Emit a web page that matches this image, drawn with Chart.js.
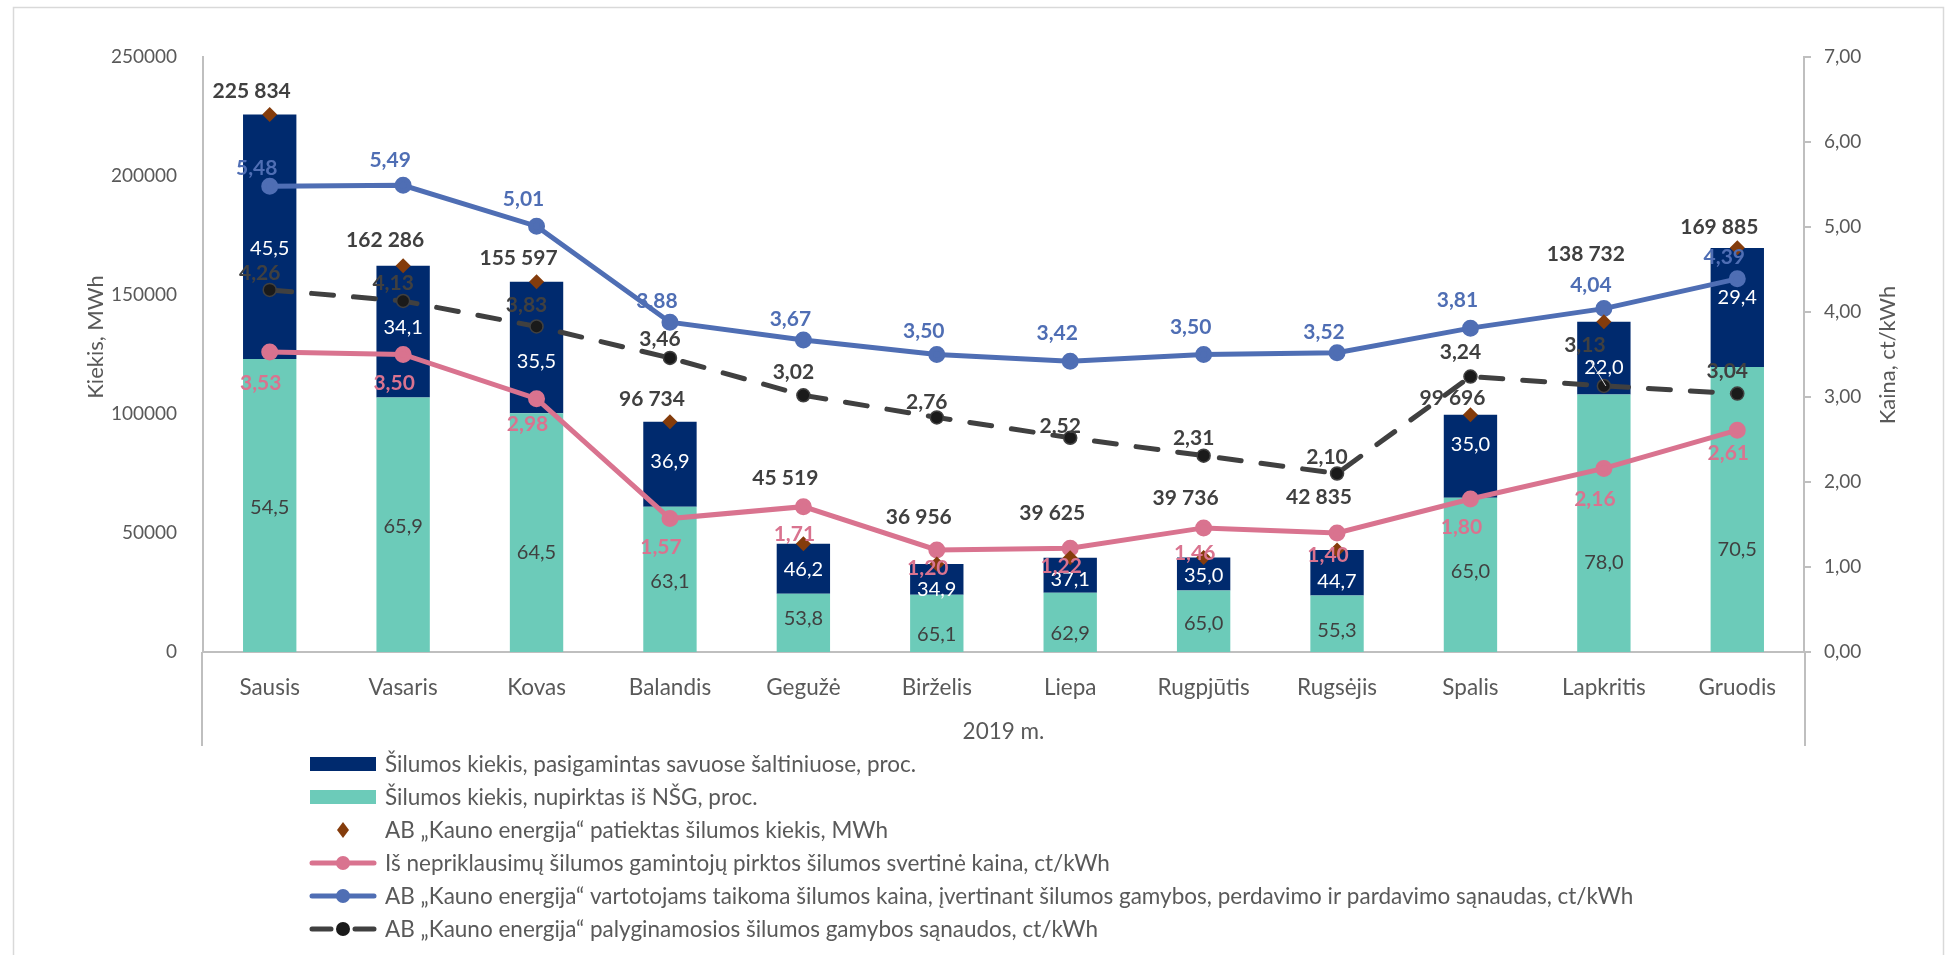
<!DOCTYPE html>
<html>
<head>
<meta charset="utf-8">
<script src="https://cdn.jsdelivr.net/npm/chart.js@4/dist/chart.umd.min.js"></script>
<style>
  html, body { margin: 0; padding: 0; background: #fff; }
  #chart { display: block; }
</style>
</head>
<body>
<canvas id="chart" width="1948" height="955"></canvas>
<script>
// data
var months = ['Sausis', 'Vasaris', 'Kovas', 'Balandis', 'Gegužė', 'Birželis', 'Liepa', 'Rugpjūtis', 'Rugsėjis', 'Spalis', 'Lapkritis', 'Gruodis'];
var delivered = [225834, 162286, 155597, 96734, 45519, 36956, 39625, 39736, 42835, 99696, 138732, 169885]; // MWh
var ownShare = [45.5, 34.1, 35.5, 36.9, 46.2, 34.9, 37.1, 35.0, 44.7, 35.0, 22.0, 29.4];        // proc.
var boughtShare = [54.5, 65.9, 64.5, 63.1, 53.8, 65.1, 62.9, 65.0, 55.3, 65.0, 78.0, 70.5];     // proc.
var ipPrice = [3.53, 3.50, 2.98, 1.57, 1.71, 1.20, 1.22, 1.46, 1.40, 1.80, 2.16, 2.61];
var userPrice = [5.48, 5.49, 5.01, 3.88, 3.67, 3.50, 3.42, 3.50, 3.52, 3.81, 4.04, 4.39];
var prodCost = [4.26, 4.13, 3.83, 3.46, 3.02, 2.76, 2.52, 2.31, 2.10, 3.24, 3.13, 3.04];
var leftTicks = [0, 50000, 100000, 150000, 200000, 250000];
var rightTicks = [0, 1, 2, 3, 4, 5, 6, 7];

// label nudges, px (Excel labels were placed by hand)
var totalLift = [23, 26, 23, 23, 65, 47, 44, 59, 53, 16, 68, 20];
var blueLift = [18, 25, 27, 21, 21, 23, 28, 27, 21, 28, 23, 22];
var pinkDrop = [31, 29, 26, 29, 28, 18, 18, 25, 22, 28, 31, 23];
var greyLift = [17, 18, 21, 19, 23, 15, 12, 17, 16, 24, 41, 22];
var navyShift = [12, -4, 14, -3, 1, 10, 4, 2, 9, -12, 9, -10];
var tealShift = [2, 2, 20, 2, -4, 11, 11, 2, 7, -3, 39, 40];

var NAVY = '#002A6E', TEAL = '#6CCBB9', BROWN = '#843C0C';
var PINK = '#D9738F', BLUE = '#4F6EB4', GREY = '#404040', TXT = '#595959', AXIS = '#BFBFBF';

Chart.defaults.font.family = 'Lato, "Open Sans", sans-serif';
Chart.defaults.color = TXT;

function pct(v) { return v.toFixed(1).replace('.', ','); }
function price(v) { return v.toFixed(2).replace('.', ','); }
function thousands(v) { return String(v).replace(/\B(?=(\d{3})+(?!\d))/g, ' '); }

var tealData = delivered.map(function (t, i) { return t * boughtShare[i] / 100; });
var navyData = delivered.map(function (t, i) { return t * ownShare[i] / 100; });

function text(ctx, s, x, y, color, font) {
  ctx.fillStyle = color;
  ctx.font = font;
  ctx.textAlign = 'center';
  ctx.textBaseline = 'middle';
  ctx.fillText(s, x, y);
}

function vtitle(ctx, s, x, y) {
  ctx.save();
  ctx.translate(x, y);
  ctx.rotate(-Math.PI / 2);
  text(ctx, s, 0, 0, TXT, '22px Lato');
  ctx.restore();
}

var labelPlugin = {
  id: 'labelPlugin',
  beforeDraw: function (chart) {
    var ctx = chart.ctx;
    ctx.save();
    ctx.strokeStyle = '#D9D9D9';
    ctx.lineWidth = 1.5;
    ctx.strokeRect(13.5, 7.5, 1930, 970);
    ctx.restore();
  },
  afterDatasetsDraw: function (chart) {
    var ctx = chart.ctx;
    var bold = 'bold 21px Lato';
    var reg = '20px Lato';
    ctx.save();
    // axis lines run down past the category labels
    var a = chart.chartArea, xs = chart.scales.x;
    ctx.strokeStyle = AXIS;
    ctx.lineWidth = 2;
    ctx.beginPath();
    ctx.moveTo(chart.scales.y.right - 1, a.bottom);
    ctx.lineTo(chart.scales.y.right - 1, xs.bottom);
    ctx.moveTo(chart.scales.y1.left + 1, a.bottom);
    ctx.lineTo(chart.scales.y1.left + 1, xs.bottom);
    ctx.stroke();

    chart.getDatasetMeta(0).data.forEach(function (el, i) {
      text(ctx, pct(boughtShare[i]), el.x, (el.y + el.base) / 2 + tealShift[i], GREY, reg);
    });
    chart.getDatasetMeta(1).data.forEach(function (el, i) {
      text(ctx, pct(ownShare[i]), el.x, (el.y + el.base) / 2 + navyShift[i], '#FFFFFF', reg);
    });
    chart.getDatasetMeta(2).data.forEach(function (el, i) {
      text(ctx, thousands(delivered[i]), el.x - 18, el.y - totalLift[i], GREY, bold);
    });
    chart.getDatasetMeta(3).data.forEach(function (el, i) {
      text(ctx, price(ipPrice[i]), el.x - 9, el.y + pinkDrop[i], PINK, bold);
    });
    chart.getDatasetMeta(4).data.forEach(function (el, i) {
      text(ctx, price(userPrice[i]), el.x - 13, el.y - blueLift[i], BLUE, bold);
    });
    chart.getDatasetMeta(5).data.forEach(function (el, i) {
      var dx = i === 10 ? -19 : -10;
      if (i === 10) {
        ctx.strokeStyle = '#D9D9D9';
        ctx.lineWidth = 1;
        ctx.beginPath();
        ctx.moveTo(el.x - 14, el.y - 26);
        ctx.lineTo(el.x + 2, el.y);
        ctx.stroke();
      }
      text(ctx, price(prodCost[i]), el.x + dx, el.y - greyLift[i], GREY, bold);
    });
    ctx.restore();
  },
  afterDraw: function (chart) {
    var ctx = chart.ctx;
    var ds = chart.data.datasets;
    var order = [1, 0, 2, 3, 4, 5];
    var x0 = 310, x1 = 376, xm = 343, tx = 385, y0 = 764, step = 33;
    ctx.save();
    order.forEach(function (d, row) {
      var y = y0 + row * step;
      var s = ds[d];
      if (d <= 1) {
        ctx.fillStyle = s.backgroundColor;
        ctx.fillRect(x0, y - 7, x1 - x0, 14);
      } else if (d === 2) {
        ctx.fillStyle = BROWN;
        ctx.beginPath();
        ctx.moveTo(xm, y - 8); ctx.lineTo(xm + 6, y); ctx.lineTo(xm, y + 8); ctx.lineTo(xm - 6, y);
        ctx.closePath();
        ctx.fill();
      } else {
        ctx.strokeStyle = s.borderColor;
        ctx.lineWidth = 5;
        ctx.lineCap = 'round';
        ctx.beginPath();
        if (d === 5) {
          ctx.moveTo(x0 + 2, y); ctx.lineTo(xm - 12, y);
          ctx.moveTo(xm + 12, y); ctx.lineTo(x1 - 2, y);
        } else {
          ctx.moveTo(x0 + 2, y); ctx.lineTo(x1 - 2, y);
        }
        ctx.stroke();
        ctx.fillStyle = s.pointBackgroundColor;
        ctx.beginPath();
        ctx.arc(xm, y, 7, 0, Math.PI * 2);
        ctx.fill();
      }
      ctx.fillStyle = TXT;
      ctx.font = '22.5px Lato';
      ctx.textAlign = 'left';
      ctx.textBaseline = 'middle';
      ctx.fillText(s.label, tx, y + 1);
    });
    // axis titles, both read bottom-to-top
    vtitle(ctx, 'Kiekis, MWh', 96, 337);
    vtitle(ctx, 'Kaina, ct/kWh', 1888, 355);
    ctx.restore();
  }
};

var chart = new Chart(document.getElementById('chart'), {
  type: 'bar',
  data: {
    labels: months,
    datasets: [{
      label: 'Šilumos kiekis, nupirktas iš NŠG, proc.',
      data: tealData,
      backgroundColor: TEAL,
      yAxisID: 'y',
      order: 1
    }, {
      label: 'Šilumos kiekis, pasigamintas savuose šaltiniuose, proc.',
      data: navyData,
      backgroundColor: NAVY,
      yAxisID: 'y',
      order: 1
    }, {
      type: 'line',
      label: 'AB „Kauno energija“ patiektas šilumos kiekis, MWh',
      data: delivered,
      showLine: false,
      pointStyle: 'rectRot',
      pointRadius: 7.5,
      pointHoverRadius: 7.5,
      pointBackgroundColor: BROWN,
      pointBorderWidth: 0,
      borderColor: BROWN,
      yAxisID: 'y',
      order: 0
    }, {
      type: 'line',
      label: 'Iš nepriklausimų šilumos gamintojų pirktos šilumos svertinė kaina, ct/kWh',
      data: ipPrice,
      borderColor: PINK,
      borderWidth: 5,
      pointRadius: 6,
      pointHoverRadius: 6,
      pointBackgroundColor: PINK,
      pointBorderColor: PINK,
      yAxisID: 'y1',
      order: 0
    }, {
      type: 'line',
      label: 'AB „Kauno energija“ vartotojams taikoma šilumos kaina, įvertinant šilumos gamybos, perdavimo ir pardavimo sąnaudas, ct/kWh',
      data: userPrice,
      borderColor: BLUE,
      borderWidth: 5,
      pointRadius: 6,
      pointHoverRadius: 6,
      pointBackgroundColor: BLUE,
      pointBorderColor: BLUE,
      yAxisID: 'y1',
      order: 0
    }, {
      type: 'line',
      label: 'AB „Kauno energija“ palyginamosios šilumos gamybos sąnaudos, ct/kWh',
      data: prodCost,
      borderColor: GREY,
      borderWidth: 5,
      borderDash: [22, 20],
      borderCapStyle: 'round',
      pointRadius: 6.5,
      pointHoverRadius: 6.5,
      pointBackgroundColor: '#1A1A1A',
      pointBorderColor: GREY,
      pointBorderWidth: 1.5,
      yAxisID: 'y1',
      order: 0
    }]
  },
  options: {
    responsive: false,
    animation: false,
    devicePixelRatio: 1,
    layout: { padding: { top: 57, left: 0, right: 0, bottom: 209 } },
    datasets: { bar: { barPercentage: 0.4, categoryPercentage: 1 } },
    plugins: { legend: { display: false }, tooltip: { enabled: false } },
    scales: {
      x: {
        stacked: true,
        grid: { display: false },
        border: { color: AXIS, width: 2 },
        ticks: { color: TXT, font: { size: 22.5 }, padding: 14 },
        title: { display: true, text: '2019 m.', color: TXT, font: { size: 22.5 }, padding: { top: 4, bottom: 1 } },
        afterFit: function (s) { s.height = 94; }
      },
      y: {
        stacked: true,
        position: 'left',
        min: leftTicks[0],
        max: leftTicks[leftTicks.length - 1],
        afterBuildTicks: function (s) { s.ticks = leftTicks.map(function (v) { return { value: v }; }); },
        grid: { display: false },
        border: { color: AXIS, width: 2 },
        ticks: { color: TXT, font: { size: 19 }, padding: 18, callback: function (v) { return String(v); } },
        afterFit: function (s) { s.width = 203; }
      },
      y1: {
        position: 'right',
        min: rightTicks[0],
        max: rightTicks[rightTicks.length - 1],
        afterBuildTicks: function (s) { s.ticks = rightTicks.map(function (v) { return { value: v }; }); },
        grid: { display: true, drawOnChartArea: false, drawTicks: true, tickLength: 7, color: AXIS, lineWidth: 2 },
        border: { color: AXIS, width: 2 },
        ticks: { color: TXT, font: { size: 19 }, padding: 13, callback: function (v) { return price(v); } },
        afterFit: function (s) { s.width = 144; }
      }
    }
  },
  plugins: [labelPlugin]
});
</script>
</body>
</html>
